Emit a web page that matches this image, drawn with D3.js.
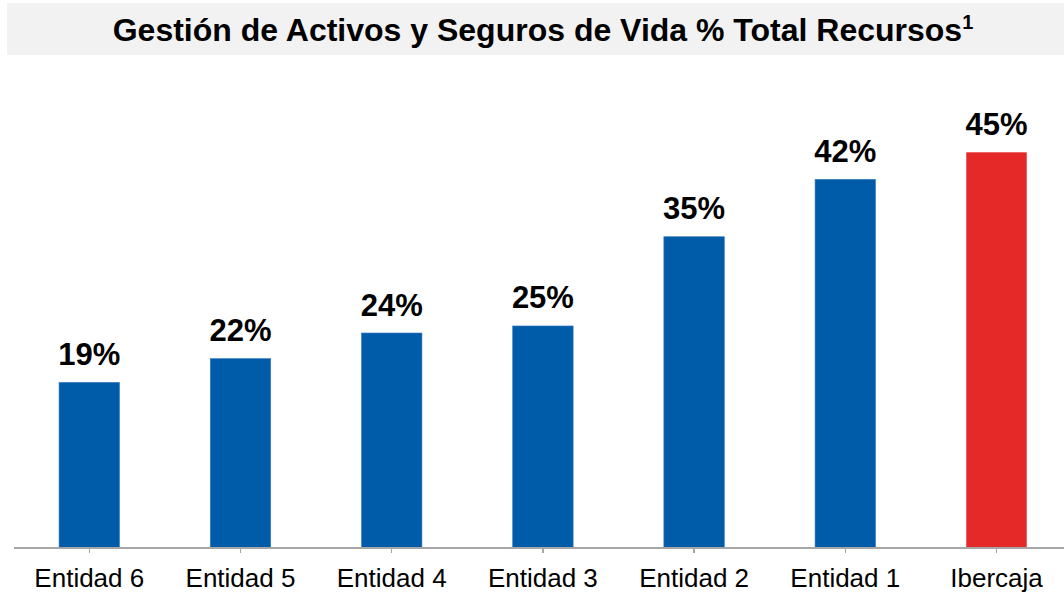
<!DOCTYPE html>
<meta charset="utf-8">
<style>
body { margin: 0; background: #fff; }
svg { font-family: "Liberation Sans", Arial, sans-serif; display: block; }
.axis path, .axis line { stroke: #a6a6a6; stroke-width: 1.5px; shape-rendering: crispEdges; }
.axis text { font-size: 26px; fill: #000; font-family: "Liberation Sans", Arial, sans-serif; }
.value { font-size: 31px; font-weight: bold; text-anchor: middle; }
.title { font-size: 32px; font-weight: bold; text-anchor: middle; }
</style>
<body>
<script src="https://cdnjs.cloudflare.com/ajax/libs/d3/7.8.5/d3.min.js"></script>
<script>

// data (bar heights, labels as printed)
var categories = ["Entidad 6", "Entidad 5", "Entidad 4", "Entidad 3", "Entidad 2", "Entidad 1", "Ibercaja"];
var values = [18.84, 21.54, 24.45, 25.25, 35.4, 41.93, 45];
var labels = ["19%", "22%", "24%", "25%", "35%", "42%", "45%"];
var highlight = "Ibercaja";

var width = 1064, height = 594;
var baseY = 548;

var svg = d3.select("body").append("svg")
    .attr("width", width)
    .attr("height", height);

// title band
svg.append("rect")
    .attr("x", 7).attr("y", 3)
    .attr("width", width - 7).attr("height", 52)
    .attr("fill", "#f2f2f2");

var title = svg.append("text")
    .attr("class", "title")
    .attr("x", 543)
    .attr("y", 41);
title.append("tspan").text("Gestión de Activos y Seguros de Vida % Total Recursos");
title.append("tspan")
    .attr("font-size", "20px")
    .attr("dy", -12)
    .text("1");

// scales
var x = d3.scaleBand()
    .domain(categories)
    .range([13.7, 1072.1])
    .paddingInner(0.6)
    .paddingOuter(0.3);

var y = d3.scaleLinear()
    .domain([0, 45])
    .range([baseY, 152.3]);

var data = categories.map(function(c, i) {
  return {name: c, value: values[i], label: labels[i]};
});

// bars
svg.selectAll(".bar")
    .data(data)
  .enter().append("rect")
    .attr("class", "bar")
    .attr("x", function(d) { return x(d.name); })
    .attr("y", function(d) { return y(d.value); })
    .attr("width", x.bandwidth())
    .attr("height", function(d) { return baseY - y(d.value); })
    .attr("fill", function(d) { return d.name === highlight ? "#e52929" : "#005ca9"; })
    .attr("stroke", function(d) { return d.name === highlight ? "none" : "#3a7cc0"; })
    .attr("stroke-width", 0.6);

// value labels
svg.selectAll(".value")
    .data(data)
  .enter().append("text")
    .attr("class", "value")
    .attr("x", function(d) { return x(d.name) + x.bandwidth() / 2; })
    .attr("y", function(d) { return y(d.value) - 17.5; })
    .text(function(d) { return d.label; });

// x axis
var axis = svg.append("g")
    .attr("class", "axis")
    .attr("transform", "translate(0," + baseY + ")")
    .call(d3.axisBottom(x).tickSizeInner(5).tickSizeOuter(0).tickPadding(16));

axis.select(".domain").attr("d", "M14,0H" + width);
axis.selectAll(".tick line").attr("stroke-width", 1);

</script>
</body>
